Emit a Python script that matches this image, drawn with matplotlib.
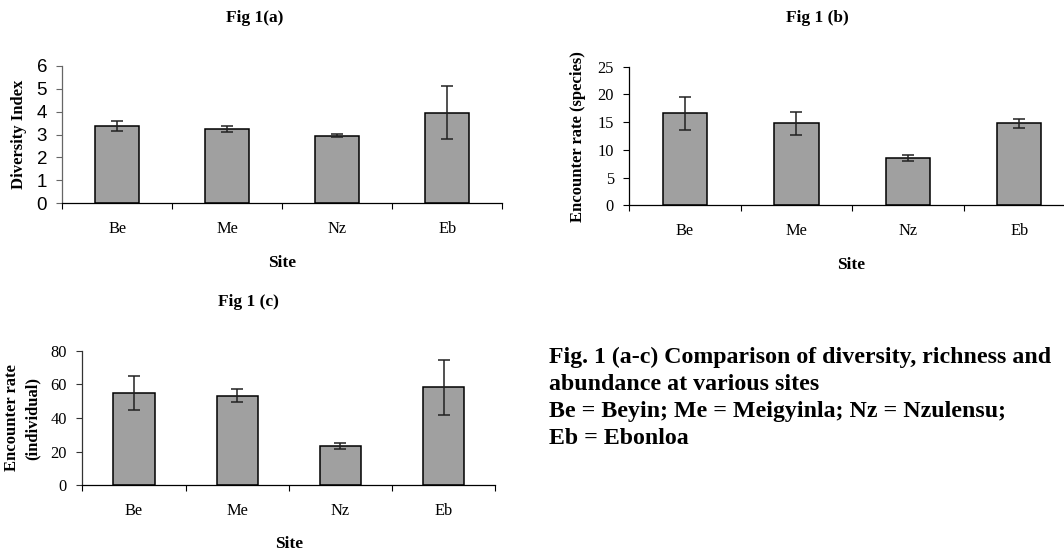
import numpy as np
import matplotlib
matplotlib.use("Agg")
import matplotlib.pyplot as plt

# ---- data ----
sites = ["Be", "Me", "Nz", "Eb"]
diversity = [3.37, 3.25, 2.95, 3.95]
diversity_err = [0.20, 0.13, 0.06, 1.15]
species_rate = [16.6, 14.8, 8.55, 14.8]
species_err = [3.0, 2.07, 0.55, 0.77]
individual_rate = [55.0, 53.3, 23.4, 58.2]
individual_err = [10.0, 3.75, 1.7, 16.2]
yticks_a = [0, 1, 2, 3, 4, 5, 6]
yticks_b = [0, 5, 10, 15, 20, 25]
yticks_c = [0, 20, 40, 60, 80]

titles = ["Fig 1(a)", "Fig 1 (b)", "Fig 1 (c)"]
ylabels = ["Diversity Index", "Encounter rate (species)", "Encounter rate\n(individual)"]
xlabel = "Site"
caption = ["Fig. 1 (a-c) Comparison of diversity, richness and",
           "abundance at various sites",
           "Be = Beyin; Me = Meigyinla; Nz = Nzulensu;",
           "Eb = Ebonloa"]

W, H = 1064, 552
DPI = 100
SERIF = "Liberation Serif"
SANS = "Liberation Sans"

fig = plt.figure(figsize=(W / DPI, H / DPI), dpi=DPI)
fig.patch.set_facecolor("white")


def fx(px):
    return px / W


def fy(py):
    return 1 - py / H


def make_axes(l, r, t, b):
    return fig.add_axes([fx(l), fy(b), (r - l) / W, (b - t) / H])


BAR_COLOR = "#a0a0a0"


def panel(ax, vals, errs, yticks, tickfont, ticksize, left_color):
    x = np.arange(len(sites))
    ax.bar(x, vals, width=0.4, color=BAR_COLOR, edgecolor="black",
           linewidth=1.1, zorder=2)
    ax.errorbar(x, vals, yerr=errs, fmt="none", ecolor="#222222",
                elinewidth=1.1, capsize=4, capthick=1.1, zorder=3,
                clip_on=False)
    ax.set_xlim(-0.5, len(sites) - 0.5)
    ax.set_ylim(yticks[0], yticks[-1])
    ax.set_yticks(yticks)
    ax.set_yticklabels([str(v) for v in yticks], fontfamily=tickfont,
                       fontsize=ticksize)
    ax.set_xticks(x)
    ax.set_xticklabels(sites, fontfamily=SERIF, fontsize=11.8)
    ax.set_xticks(np.arange(-0.5, len(sites)), minor=True)
    ax.tick_params(axis="x", which="major", length=0, pad=12.6)
    ax.tick_params(axis="x", which="minor", length=4.3, width=0.8,
                   direction="out", color="black")
    ax.tick_params(axis="y", length=4.5, width=0.8, pad=6.5,
                   color=left_color, direction="out")
    for s in ("top", "right"):
        ax.spines[s].set_visible(False)
    ax.spines["left"].set_color(left_color)
    ax.spines["left"].set_linewidth(0.9)
    ax.spines["bottom"].set_color("black")
    ax.spines["bottom"].set_linewidth(0.9)
    ax.set_facecolor("none")


ax_a = make_axes(62.3, 502.3, 65.7, 203.3)
panel(ax_a, diversity, diversity_err, yticks_a, SANS, 13.5, "#666666")
ax_b = make_axes(629.3, 1074.9, 66.7, 205.5)
panel(ax_b, species_rate, species_err, yticks_b, SERIF, 11.8, "black")
ax_c = make_axes(82.3, 495.3, 350.7, 485.3)
panel(ax_c, individual_rate, individual_err, yticks_c, SERIF, 11.8, "#333333")

# titles
fig.text(fx(255), fy(21.7), titles[0], ha="center", va="baseline",
         fontfamily=SERIF, fontweight="bold", fontsize=12.5)
fig.text(fx(817), fy(21.7), titles[1], ha="center", va="baseline",
         fontfamily=SERIF, fontweight="bold", fontsize=12.5)
fig.text(fx(248), fy(306), titles[2], ha="center", va="baseline",
         fontfamily=SERIF, fontweight="bold", fontsize=12.5)

# y labels
fig.text(fx(18.7), fy(134.5), ylabels[0], rotation=90, ha="center",
         va="center", fontfamily=SERIF, fontweight="bold", fontsize=12)
fig.text(fx(577.6), fy(137), ylabels[1], rotation=90, ha="center",
         va="center", fontfamily=SERIF, fontweight="bold", fontsize=12)
fig.text(fx(22), fy(418), ylabels[2], rotation=90, ha="center",
         va="center", fontfamily=SERIF, fontweight="bold", fontsize=12,
         linespacing=1.4, multialignment="center")

# x labels
for xc, base in [(282, 266.7), (851, 269.3), (289, 548.3)]:
    fig.text(fx(xc), fy(base), xlabel, ha="center", va="baseline",
             fontfamily=SERIF, fontweight="bold", fontsize=12.5)

# caption
for line, base in zip(caption, [363.5, 390.5, 417.5, 444.5]):
    fig.text(fx(549), fy(base), line, ha="left", va="baseline",
             fontfamily=SERIF, fontweight="bold", fontsize=17.2)

fig.savefig("out.png", dpi=DPI, facecolor="white")
